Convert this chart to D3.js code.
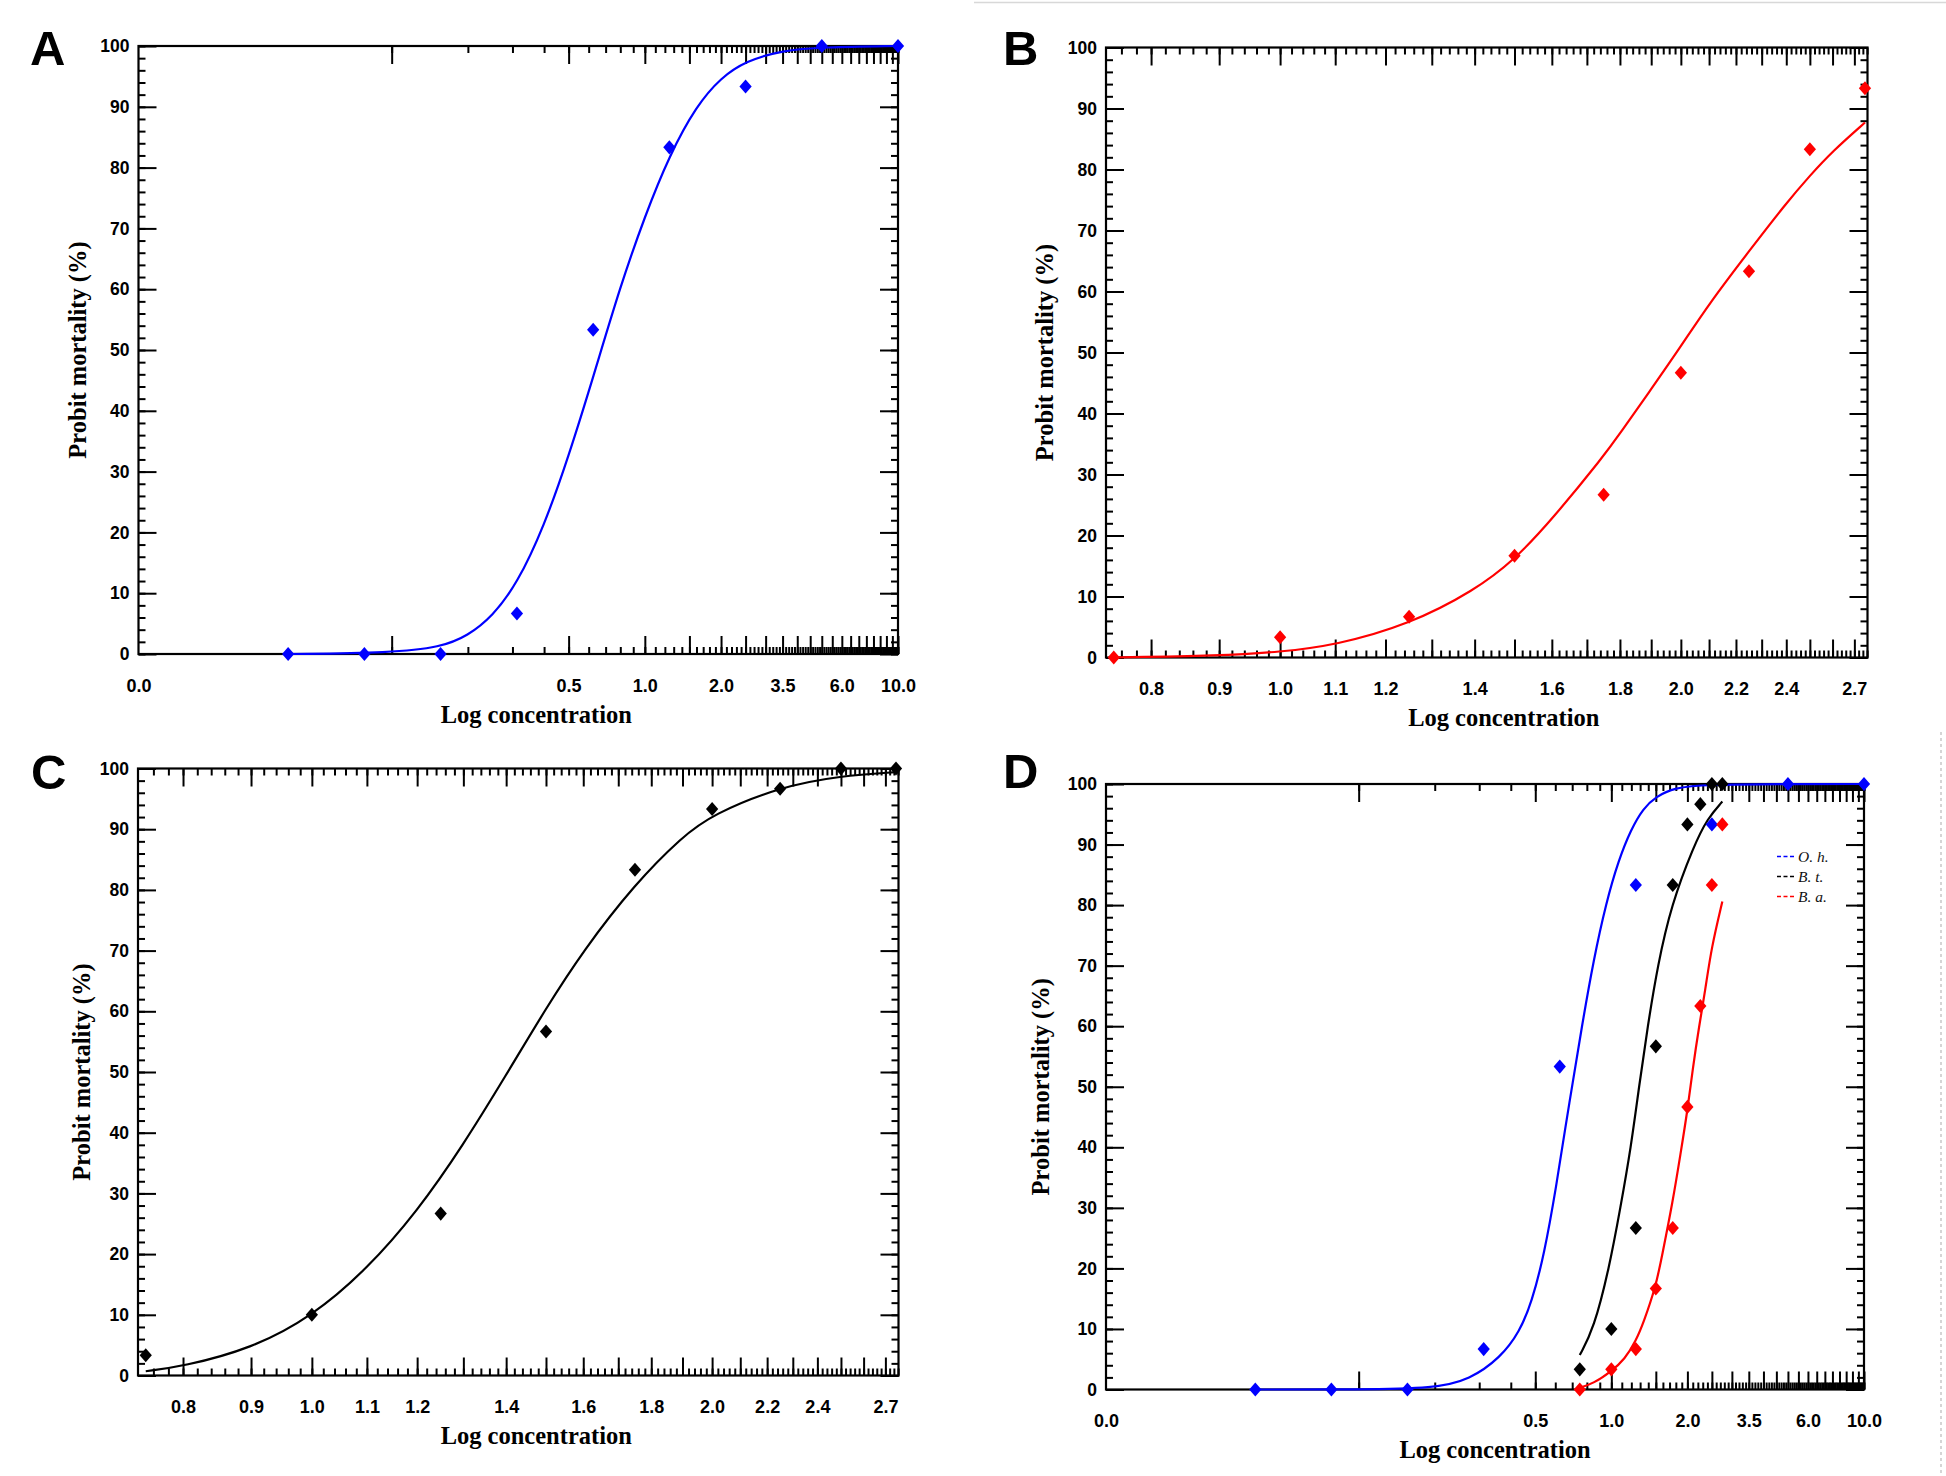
<!DOCTYPE html>
<html><head><meta charset="utf-8">
<script src="https://cdn.jsdelivr.net/npm/d3@7"></script>
<style>
html,body{margin:0;padding:0;background:#fff;}
svg{display:block;}
</style></head><body>
<svg id="chart" width="1946" height="1476"></svg>
<script>
// ---------------- data ----------------
// O. h. (blue) concentrations and mortality
const concOh = [0.039, 0.078, 0.156, 0.3125, 0.625, 1.25, 2.5, 5, 10];
const mortOh = [0, 0, 0, 6.67, 53.33, 83.33, 93.33, 100, 100];
// B. a. (red) and B. t. (black) concentrations and mortality
const concBb = [0.75, 1.0, 1.25, 1.5, 1.75, 2.0, 2.25, 2.5, 2.75];
const mortBa = [0, 3.33, 6.67, 16.67, 26.67, 46.67, 63.33, 83.33, 93.33];
const mortBt = [3.33, 10, 26.67, 56.67, 83.33, 93.33, 96.67, 100, 100];

// fitted probit curves
const fitA_x = [0.039, 0.1, 0.156, 0.2, 0.25, 0.3125, 0.4, 0.5, 0.625, 0.8, 1.0, 1.25, 1.6, 2.0, 2.5, 3.5, 5, 10];
const fitA_y = [0, 0.2, 1.1, 3, 6.2, 11.5, 21, 32.5, 45.5, 60.5, 72, 82, 90.2, 94.8, 97.5, 99.3, 99.8, 100];
const fitB_x = [0.75, 0.9, 1.0, 1.1, 1.25, 1.4, 1.5, 1.6, 1.75, 1.8, 1.9, 2.0, 2.1, 2.25, 2.4, 2.5, 2.6, 2.75];
const fitB_y = [0, 0.3, 0.9, 2.0, 5.4, 11, 16, 22.6, 33, 36.7, 44, 51, 58, 66.6, 74.5, 79, 83, 87.7];
const fitC_x = [0.75, 0.8, 0.9, 1.0, 1.1, 1.2, 1.3, 1.4, 1.5, 1.6, 1.75, 1.9, 2.0, 2.25, 2.5, 2.75];
const fitC_y = [0.7, 1.5, 4.4, 9.7, 17.5, 27, 38, 49.5, 60.5, 70, 81, 88.8, 92.4, 97, 98.8, 99.4];
const fitDoh_x = [0.039, 0.1, 0.2, 0.275, 0.365, 0.433, 0.484, 0.542, 0.607, 0.661, 0.70, 0.761, 0.852, 0.954, 1.068, 1.196, 1.339, 1.50, 1.776, 2.355, 5, 10];
const fitDoh_y = [0, 0, 0.2, 1.6, 5.3, 9.5, 14.4, 22.2, 33.8, 43.9, 50.1, 59.5, 71.1, 80.4, 87.4, 92.5, 96, 97.9, 99.4, 99.9, 100, 100];
const fitDbt_x = [0.75, 0.852, 0.98, 1.086, 1.196, 1.287, 1.393, 1.525, 1.726, 2.12, 2.4, 2.75];
const fitDbt_y = [5.7, 10, 20, 30, 40, 50, 60, 70, 80, 89.8, 94.3, 97.1];
const fitDba_x = [0.75, 0.85, 1.0, 1.13, 1.25, 1.34, 1.5, 1.586, 1.75, 1.88, 2.0, 2.10, 2.225, 2.355, 2.49, 2.75];
const fitDba_y = [0.3, 1, 3, 5, 8, 11, 17, 22, 31, 39, 46, 53, 60, 66, 73, 80.6];

// axis tick labels
const yTickValues = [0, 10, 20, 30, 40, 50, 60, 70, 80, 90, 100];
const wideTickValues = [0.01, 0.5, 1, 2, 3.5, 6, 10];
const wideTickLabels = ["0.0", "0.5", "1.0", "2.0", "3.5", "6.0", "10.0"];
const narrowTickValues = [0.8, 0.9, 1.0, 1.1, 1.2, 1.4, 1.6, 1.8, 2.0, 2.2, 2.4, 2.7];
const narrowTickLabels = ["0.8", "0.9", "1.0", "1.1", "1.2", "1.4", "1.6", "1.8", "2.0", "2.2", "2.4", "2.7"];
const legendLabels = ["O. h.", "B. t.", "B. a."];
const legendColors = ["#0000ff", "#000000", "#ff0000"];

// ---------------- layout ----------------
const wideDomain = [0.01, 10];
const narrowDomain = [0.74, 2.762];
const wideMinor = d3.range(1, 101).map(i => i / 10);
const wideMajor = d3.range(1, 101).filter(i => i % 5 === 0 || i === 1).map(i => i / 10);
const narrowMinor = d3.range(38, 139).map(i => i / 50);
const narrowMajor = d3.range(38, 139).filter(i => i % 5 === 0).map(i => i / 50);
const yMinor = d3.range(0, 101, 2);

const MINOR = 7, MAJOR = 18;
const SANS = "'Liberation Sans', Arial, Helvetica, sans-serif";
const SERIF = "'Liberation Serif', 'Times New Roman', serif";

const panels = [
  {id: "A", kind: "wide",   left: 138.5, right: 898,    top: 46,   bottom: 654,    lx: 30,   ly: 65,  ytx: 77,   xtdx: 18},
  {id: "B", kind: "narrow", left: 1106,  right: 1867.5, top: 47.5, bottom: 657.5,  lx: 1003, ly: 65,  ytx: 1044, xtdx: 17},
  {id: "C", kind: "narrow", left: 138,   right: 898.5,  top: 768.5, bottom: 1375.5, lx: 31,  ly: 789, ytx: 81,   xtdx: 18},
  {id: "D", kind: "wide",   left: 1106,  right: 1864,   top: 784,  bottom: 1389.5, lx: 1003, ly: 788, ytx: 1040, xtdx: 10}
];

const svg = d3.select("#chart");

// faint page borders visible in the original
svg.append("line").attr("x1", 974).attr("x2", 1946).attr("y1", 2.5).attr("y2", 2.5)
  .attr("stroke", "#d8d8d8").attr("stroke-width", 1.5);
svg.append("line").attr("x1", 1941).attr("x2", 1941).attr("y1", 732).attr("y2", 1476)
  .attr("stroke", "#c8c8c8").attr("stroke-width", 1.5).attr("stroke-dasharray", "3,3");

const diamondType = {
  draw(ctx, size) {
    const w = Math.sqrt(size) / 2, h = w * 1.15;
    ctx.moveTo(0, -h); ctx.lineTo(w, 0); ctx.lineTo(0, h); ctx.lineTo(-w, 0); ctx.closePath();
  }
};
const diamond = d3.symbol().type(diamondType).size(150);

function tickAxis(g, axis, transform) {
  const a = g.append("g").attr("transform", transform)
    .call(axis.tickSizeOuter(0).tickFormat(""));
  a.select(".domain").remove();
  a.selectAll("line").attr("stroke", "#000").attr("stroke-width", 2);
  return a;
}

function drawPanel(p, series, fits, legend) {
  const g = svg.append("g");
  const x = d3.scaleLog().domain(p.kind === "wide" ? wideDomain : narrowDomain).range([p.left, p.right]);
  const y = d3.scaleLinear().domain([0, 100]).range([p.bottom, p.top]);
  const xMinor = p.kind === "wide" ? wideMinor : narrowMinor;
  const xMajor = p.kind === "wide" ? wideMajor : narrowMajor;
  const xLabVals = p.kind === "wide" ? wideTickValues : narrowTickValues;
  const xLabs = p.kind === "wide" ? wideTickLabels : narrowTickLabels;
  const yMajor = yTickValues;

  // ticks (all pointing inward)
  tickAxis(g, d3.axisBottom(x).tickValues(xMinor).tickSize(-MINOR), `translate(0,${p.bottom})`);
  tickAxis(g, d3.axisBottom(x).tickValues(xMajor).tickSize(-MAJOR), `translate(0,${p.bottom})`);
  tickAxis(g, d3.axisTop(x).tickValues(xMinor).tickSize(-MINOR), `translate(0,${p.top})`);
  tickAxis(g, d3.axisTop(x).tickValues(xMajor).tickSize(-MAJOR), `translate(0,${p.top})`);
  tickAxis(g, d3.axisLeft(y).tickValues(yMinor).tickSize(-MINOR), `translate(${p.left},0)`);
  tickAxis(g, d3.axisLeft(y).tickValues(yMajor).tickSize(-MAJOR), `translate(${p.left},0)`);
  tickAxis(g, d3.axisRight(y).tickValues(yMinor).tickSize(-MINOR), `translate(${p.right},0)`);
  tickAxis(g, d3.axisRight(y).tickValues(yMajor).tickSize(-MAJOR), `translate(${p.right},0)`);

  // frame
  g.append("rect").attr("x", p.left).attr("y", p.top)
    .attr("width", p.right - p.left).attr("height", p.bottom - p.top)
    .attr("fill", "none").attr("stroke", "#000").attr("stroke-width", 2.2);

  // tick labels
  const xl = g.append("g").attr("transform", `translate(0,${p.bottom})`)
    .call(d3.axisBottom(x).tickValues(xLabVals).tickSize(0).tickPadding(25)
      .tickFormat((d, i) => xLabs[i]));
  xl.select(".domain").remove();
  xl.selectAll("text").attr("font-family", SANS).attr("font-weight", "bold")
    .attr("font-size", 18).attr("fill", "#000");

  const yl = g.append("g").attr("transform", `translate(${p.left},0)`)
    .call(d3.axisLeft(y).tickValues(yMajor).tickSize(0).tickPadding(9).tickFormat(d3.format("d")));
  yl.select(".domain").remove();
  yl.selectAll("text").attr("font-family", SANS).attr("font-weight", "bold")
    .attr("font-size", 17.5).attr("fill", "#000");

  // axis titles
  g.append("text").attr("x", (p.left + p.right) / 2 + p.xtdx).attr("y", p.bottom + 68.5)
    .attr("text-anchor", "middle").attr("font-family", SERIF).attr("font-weight", "bold")
    .attr("font-size", 24.5).text("Log concentration");
  g.append("text")
    .attr("transform", `translate(${p.ytx},${(p.top + p.bottom) / 2}) rotate(-90)`)
    .attr("dy", "0.35em").attr("text-anchor", "middle").attr("font-family", SERIF)
    .attr("font-weight", "bold").attr("font-size", 24.5).text("Probit mortality (%)");

  // panel letter
  g.append("text").attr("x", p.lx).attr("y", p.ly).attr("font-family", SANS)
    .attr("font-weight", "bold").attr("font-size", 49).text(p.id);

  // fitted curves
  const line = d3.line().x(d => x(d[0])).y(d => y(d[1])).curve(d3.curveBasis);
  fits.forEach(f => {
    g.append("path").datum(d3.zip(f.xs, f.ys)).attr("d", line)
      .attr("fill", "none").attr("stroke", f.color).attr("stroke-width", 2.2);
  });

  // points
  series.forEach(s => {
    g.append("g").selectAll("path").data(d3.zip(s.xs, s.ys)).join("path")
      .attr("d", diamond)
      .attr("transform", d => `translate(${x(d[0])},${y(d[1])})`)
      .attr("fill", s.color);
  });

  // legend
  if (legend) {
    const lg = g.append("g");
    legendLabels.forEach((lab, i) => {
      const yy = 856.5 + i * 20;
      lg.append("line").attr("x1", 1777).attr("x2", 1794).attr("y1", yy).attr("y2", yy)
        .attr("stroke", legendColors[i]).attr("stroke-width", 1.6).attr("stroke-dasharray", "4,2.5");
      lg.append("text").attr("x", 1798).attr("y", yy).attr("dy", "0.33em")
        .attr("font-family", SERIF).attr("font-style", "italic").attr("font-size", 15.5)
        .attr("fill", "#111").text(lab);
    });
  }
}

drawPanel(panels[0],
  [{xs: concOh, ys: mortOh, color: "#0000ff"}],
  [{xs: fitA_x, ys: fitA_y, color: "#0000ff"}], false);
drawPanel(panels[1],
  [{xs: concBb, ys: mortBa, color: "#ff0000"}],
  [{xs: fitB_x, ys: fitB_y, color: "#ff0000"}], false);
drawPanel(panels[2],
  [{xs: concBb, ys: mortBt, color: "#000000"}],
  [{xs: fitC_x, ys: fitC_y, color: "#000000"}], false);
drawPanel(panels[3],
  [{xs: concOh, ys: mortOh, color: "#0000ff"},
   {xs: concBb, ys: mortBt, color: "#000000"},
   {xs: concBb, ys: mortBa, color: "#ff0000"}],
  [{xs: fitDoh_x, ys: fitDoh_y, color: "#0000ff"},
   {xs: fitDbt_x, ys: fitDbt_y, color: "#000000"},
   {xs: fitDba_x, ys: fitDba_y, color: "#ff0000"}], true);
</script>
</body></html>
